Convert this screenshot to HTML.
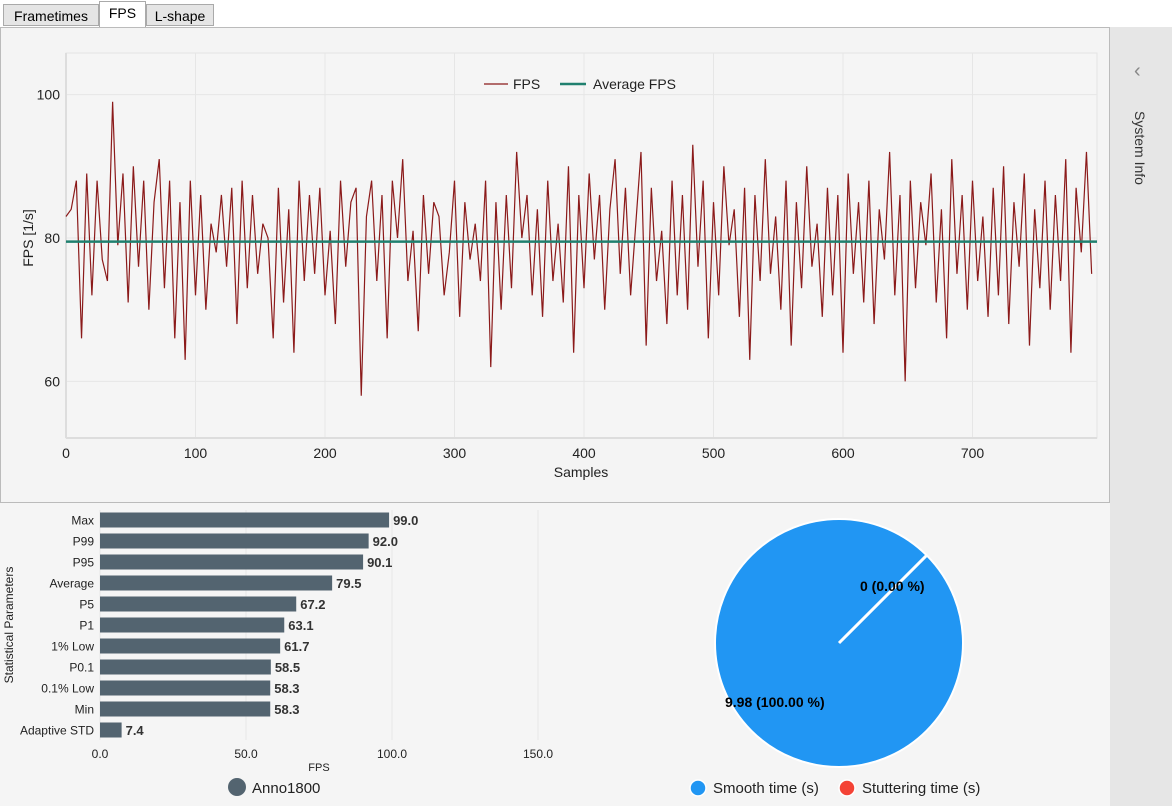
<!DOCTYPE html>
<html><head><meta charset="utf-8">
<style>
body{margin:0;width:1172px;height:806px;background:#f5f5f5;font-family:"Liberation Sans",sans-serif;position:relative;overflow:hidden}
.tab{position:absolute;top:4px;height:22px;border:1px solid #aaa;background:#e5e5e5;font-size:14px;line-height:22px;text-align:center;box-sizing:border-box}
</style></head><body>
<div style="position:absolute;left:0;top:0;width:1172px;height:27px;background:#fff"></div>
<div class="tab" style="left:3px;width:96px">Frametimes</div>
<div class="tab" style="left:99px;width:47px;top:1px;height:27px;background:#fff;border-bottom:none">FPS</div>
<div class="tab" style="left:146px;width:68px">L-shape</div>
<div style="position:absolute;left:0;top:27px;width:1110px;height:476px;border:1px solid #bbb;box-sizing:border-box;background:#f4f4f4"></div>
<div style="position:absolute;left:1110px;top:27px;width:62px;height:779px;background:#e6e6e6"></div>
<div style="position:absolute;left:1134px;top:60px;font-size:20px;color:#888">&#8249;</div>
<div style="position:absolute;left:1100px;top:140px;width:80px;transform:rotate(90deg);font-size:14px;color:#333;text-align:center">System Info</div>
<svg id="line" width="1172" height="806" style="position:absolute;left:0;top:0"></svg>
<script>
const fps=[83,84,88,66,89,72,88,77,74,99,79,89,71,90,76,88,70,85,91,73,88,66,85,63,88,72,86,70,82,78,86,76,87,68,88,73,86,75,82,80,66,87,71,84,64,88,74,86,75,87,72,81,68,88,76,85,87,58,83,88,74,86,66,88,80,91,74,81,67,86,75,85,83,72,78,88,69,85,77,82,74,88,62,85,70,86,73,92,80,86,72,84,69,88,74,82,71,90,64,86,73,89,77,86,70,84,91,75,87,72,82,92,65,87,74,81,68,88,72,86,70,93,76,88,66,85,72,90,79,84,69,87,63,86,74,91,75,83,70,88,65,85,73,90,76,82,69,87,72,86,64,89,75,85,71,88,68,84,77,92,72,86,60,88,73,85,79,89,71,84,66,91,75,86,70,88,74,83,69,87,72,90,68,85,76,89,65,84,73,88,70,86,74,91,64,87,78,92,75];
const step=4;
const avgFps=79.5;
const xTicks=[0,100,200,300,400,500,600,700];
const yTicks=[60,80,100];
const statNames=["Max","P99","P95","Average","P5","P1","1% Low","P0.1","0.1% Low","Min","Adaptive STD"];
const statVals=[99.0,92.0,90.1,79.5,67.2,63.1,61.7,58.5,58.3,58.3,7.4];
const barTicks=[0,50,100,150];
const pieNames=["Smooth time (s)","Stuttering time (s)"];
const pieVals=[9.98,0];
const NS="http://www.w3.org/2000/svg";
const svg=document.getElementById('line');
function mk(t,a,p){const e=document.createElementNS(NS,t);for(const k in a)e.setAttribute(k,a[k]);(p||svg).appendChild(e);return e;}
const X=v=>66+v*1.295, Y=v=>238-(v-80)*7.17;
mk('rect',{x:66,y:53,width:1031,height:385,fill:'#f5f5f5',stroke:'#e4e4e4'});
xTicks.forEach(t=>{mk('line',{x1:X(t),x2:X(t),y1:53,y2:438,stroke:'#e6e6e6'});const e=mk('text',{x:X(t),y:458,'text-anchor':'middle','font-size':14,fill:'#222'});e.textContent=t;});
yTicks.forEach(t=>{mk('line',{x1:66,x2:1097,y1:Y(t),y2:Y(t),stroke:'#e6e6e6'});const e=mk('text',{x:60,y:Y(t)+5,'text-anchor':'end','font-size':14,fill:'#222'});e.textContent=t;});
mk('line',{x1:66,x2:66,y1:53,y2:438,stroke:'#ddd','stroke-width':2});
mk('line',{x1:66,x2:1097,y1:438,y2:438,stroke:'#ddd','stroke-width':2});
let t=mk('text',{x:581,y:477,'text-anchor':'middle','font-size':14,fill:'#222'});t.textContent='Samples';
t=mk('text',{x:0,y:0,'text-anchor':'middle','font-size':14,fill:'#222',transform:'translate(33,238) rotate(-90)'});t.textContent='FPS [1/s]';
const pl=mk('polyline',{points:fps.map((v,i)=>X(i*step)+','+Y(v)).join(' '),fill:'none',stroke:'#8b1a1a','stroke-width':1.2});

const al=mk('line',{x1:66,x2:1097,y1:Y(avgFps),y2:Y(avgFps),stroke:'#20806f','stroke-width':2.5});

mk('line',{x1:484,x2:508,y1:84,y2:84,stroke:'#8b1a1a','stroke-width':1.2});
t=mk('text',{x:513,y:89,'font-size':14,fill:'#222'});t.textContent='FPS';
mk('line',{x1:560,x2:586,y1:84,y2:84,stroke:'#20806f','stroke-width':2.5});
t=mk('text',{x:593,y:89,'font-size':14,fill:'#222'});t.textContent='Average FPS';
// bar chart
const BX=v=>100+v*2.92, BY=i=>520+i*21;
barTicks.forEach(v=>{mk('line',{x1:BX(v),x2:BX(v),y1:510,y2:740,stroke:'#e8e8e8'});const e=mk('text',{x:BX(v),y:758,'text-anchor':'middle','font-size':12,fill:'#222'});e.textContent=v.toFixed(1);});
statNames.forEach((n,i)=>{
 const r=mk('rect',{x:100,y:BY(i)-7.5,width:BX(statVals[i])-100,height:15,fill:'#536470'});
 
 let e=mk('text',{x:94,y:BY(i)+4.5,'text-anchor':'end','font-size':12,fill:'#222'});e.textContent=n;
 
 e=mk('text',{x:BX(statVals[i])+4,y:BY(i)+5,'font-size':13,'font-weight':'bold',fill:'#333'});e.textContent=statVals[i].toFixed(1);
 
});
t=mk('text',{x:319,y:771,'text-anchor':'middle','font-size':11,fill:'#222'});t.textContent='FPS';
t=mk('text',{x:0,y:0,'text-anchor':'middle','font-size':12,fill:'#222',transform:'translate(13,625) rotate(-90)'});t.textContent='Statistical Parameters';
let c=mk('circle',{cx:237,cy:787,r:9,fill:'#536470'});
t=mk('text',{x:252,y:793,'font-size':15,fill:'#222'});t.textContent='Anno1800';
// pie
const cx=839,cy=643,R=124,tot=pieVals.reduce((a,b)=>a+b,0);
const cols=['#2196f3','#f44336'];
let start=-45*Math.PI/180;
pieVals.forEach((v,i)=>{const f=v/tot;if(f<=0)return;
 let s;
 if(f>=0.9999){s=mk('circle',{cx,cy,r:R,fill:cols[i],stroke:'#fff','stroke-width':2});}
 else{const a2=start+f*2*Math.PI;s=mk('path',{d:`M${cx},${cy}L${cx+R*Math.cos(start)},${cy+R*Math.sin(start)}A${R},${R} 0 ${f>0.5?1:0} 1 ${cx+R*Math.cos(a2)},${cy+R*Math.sin(a2)}Z`,fill:cols[i],stroke:'#fff','stroke-width':2});start=a2;}
 
});
mk('line',{x1:cx,y1:cy,x2:cx+R*Math.cos(-45*Math.PI/180),y2:cy+R*Math.sin(-45*Math.PI/180),stroke:'#fff','stroke-width':3});
t=mk('text',{x:860,y:591,'font-size':14,'font-weight':'bold',fill:'#000'});t.textContent=pieVals[1]+' ('+(pieVals[1]/tot*100).toFixed(2)+' %)';
t=mk('text',{x:725,y:707,'font-size':14,'font-weight':'bold',fill:'#000'});t.textContent=pieVals[0]+' ('+(pieVals[0]/tot*100).toFixed(2)+' %)';
[[698,713],[847,862]].forEach((p,i)=>{const m=mk('circle',{cx:p[0],cy:788,r:8,fill:cols[i],stroke:'#fff','stroke-width':1.5});
 const e=mk('text',{x:p[1],y:793,'font-size':15,fill:'#222'});e.textContent=pieNames[i];});
</script>
</body></html>
